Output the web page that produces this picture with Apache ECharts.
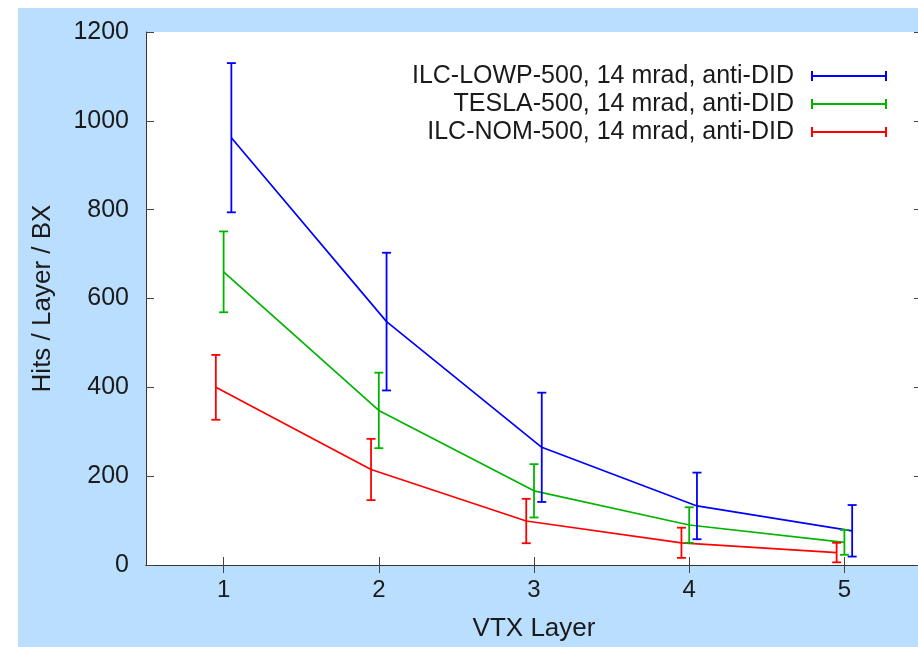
<!DOCTYPE html>
<html>
<head>
<meta charset="utf-8">
<script src="https://cdn.jsdelivr.net/npm/echarts@6/dist/echarts.min.js"></script>
<style>
  html, body { margin: 0; padding: 0; background: #ffffff; }
  #chart { width: 918px; height: 647px; }
</style>
</head>
<body>
<div id="chart"></div>
<script>
// VTX layer numbers and hit-rate measurements (mean and symmetric error) per beam parameter set
const layers = [1, 2, 3, 4, 5];
const layerTicks = [1, 2, 3, 4, 5];

const seriesNames = [
  'ILC-LOWP-500, 14 mrad, anti-DID',
  'TESLA-500, 14 mrad, anti-DID',
  'ILC-NOM-500, 14 mrad, anti-DID'
];

const lowpMean  = [962, 548, 265, 133, 77];
const lowpErr   = [168, 155, 123, 75, 58];
const teslaMean = [660, 348, 167, 90, 51];
const teslaErr  = [91, 85, 60, 40, 28];
const nomMean   = [400, 215, 99, 50, 28];
const nomErr    = [73, 69, 50, 34, 22];

// drawing settings
const FONT = '"Liberation Sans", Arial, Helvetica, sans-serif';
const colors = ['#0000ff', '#00b400', '#ff0000'];
const xShift = [0.05, 0, -0.05];   // small horizontal separation between the three sets
const means = [lowpMean, teslaMean, nomMean];
const errs = [lowpErr, teslaErr, nomErr];

// legend sample: horizontal bar with end caps
const EB_ICON = 'path://M0,0h2v10h-2z M0,4h76v2h-76z M74,0h2v10h-2z';

function errorBarRenderer(color) {
  return function (params, api) {
    const x = api.value(0);
    const top = api.coord([x, api.value(2)]);
    const bot = api.coord([x, api.value(1)]);
    const cw = 4.5;
    const st = { stroke: color, lineWidth: 1.8 };
    return {
      type: 'group',
      children: [
        { type: 'line', shape: { x1: top[0], y1: top[1], x2: bot[0], y2: bot[1] }, style: st },
        { type: 'line', shape: { x1: top[0] - cw, y1: top[1], x2: top[0] + cw, y2: top[1] }, style: st },
        { type: 'line', shape: { x1: bot[0] - cw, y1: bot[1], x2: bot[0] + cw, y2: bot[1] }, style: st }
      ]
    };
  };
}

const series = [];
seriesNames.forEach(function (name, i) {
  const m = means[i], e = errs[i];
  series.push({
    name: name,
    type: 'line',
    data: layers.map(function (l, k) { return [l + xShift[i], m[k]]; }),
    symbol: 'none',
    lineStyle: { color: colors[i], width: 1.7 },
    itemStyle: { color: colors[i] },
    z: 3
  });
  series.push({
    name: name,
    type: 'custom',
    renderItem: errorBarRenderer(colors[i]),
    data: layers.map(function (l, k) { return [l + xShift[i], m[k] - e[k], m[k] + e[k]]; }),
    itemStyle: { color: colors[i] },
    encode: { x: 0, y: [1, 2] },
    z: 4
  });
});

const legends = seriesNames.map(function (name, i) {
  return {
    data: [{ name: name, icon: EB_ICON }],
    right: 31,
    top: 62 + i * 28,
    orient: 'horizontal',
    align: 'right',
    itemWidth: 76,
    itemHeight: 10,
    padding: 0,
    selectedMode: false,
    itemStyle: { color: colors[i] },
    textStyle: { fontSize: 25, color: '#1a1a1a', fontFamily: FONT, lineHeight: 28, padding: [0, 12, 0, 0] }
  };
});

const tickStyle = { lineStyle: { color: '#444', width: 1 } };

const option = {
  animation: false,
  backgroundColor: '#ffffff',
  graphic: [{
    type: 'rect',
    shape: { x: 18, y: 8, width: 900, height: 639 },
    style: { fill: '#badefd' },
    z: -100,
    silent: true
  }],
  grid: {
    left: 146, top: 32, width: 776, height: 533,
    show: true, backgroundColor: '#ffffff', borderWidth: 0,
    containLabel: false,
    outerBoundsMode: 'none'
  },
  legend: legends,
  xAxis: [{
    type: 'value', min: 0.5, max: 5.5, position: 'bottom',
    name: 'VTX Layer', nameLocation: 'middle', nameGap: 51,
    nameTextStyle: { fontSize: 26, color: '#1a1a1a', fontFamily: FONT },
    axisLine: { show: true, lineStyle: { color: '#333', width: 1 } },
    axisTick: Object.assign({ show: true, inside: true, length: 8, customValues: layerTicks }, tickStyle),
    axisLabel: { fontSize: 24, color: '#1a1a1a', fontFamily: FONT, margin: 13, customValues: layerTicks },
    splitLine: { show: false }
  }, {
    type: 'value', min: 0.5, max: 5.5, position: 'top',
    axisLine: { show: true, lineStyle: { color: '#333', width: 1 } },
    axisTick: Object.assign({ show: true, inside: true, length: 8, customValues: layerTicks }, tickStyle),
    axisLabel: { show: false },
    splitLine: { show: false }
  }],
  yAxis: [{
    type: 'value', min: 0, max: 1200, interval: 200, position: 'left',
    name: 'Hits / Layer / BX', nameLocation: 'middle', nameGap: 90,
    nameTextStyle: { fontSize: 26, color: '#1a1a1a', fontFamily: FONT },
    axisLine: { show: true, lineStyle: { color: '#333', width: 1 } },
    axisTick: Object.assign({ show: true, inside: true, length: 8 }, tickStyle),
    axisLabel: { fontSize: 25, color: '#1a1a1a', fontFamily: FONT, margin: 17,
      formatter: function (v) { return String(v); } },
    splitLine: { show: false }
  }, {
    type: 'value', min: 0, max: 1200, interval: 200, position: 'right',
    axisLine: { show: false },
    axisTick: Object.assign({ show: true, inside: true, length: 8 }, tickStyle),
    axisLabel: { show: false },
    splitLine: { show: false }
  }],
  series: series
};

const chart = echarts.init(document.getElementById('chart'), null, { renderer: 'canvas' });
chart.setOption(option);
</script>
</body>
</html>
